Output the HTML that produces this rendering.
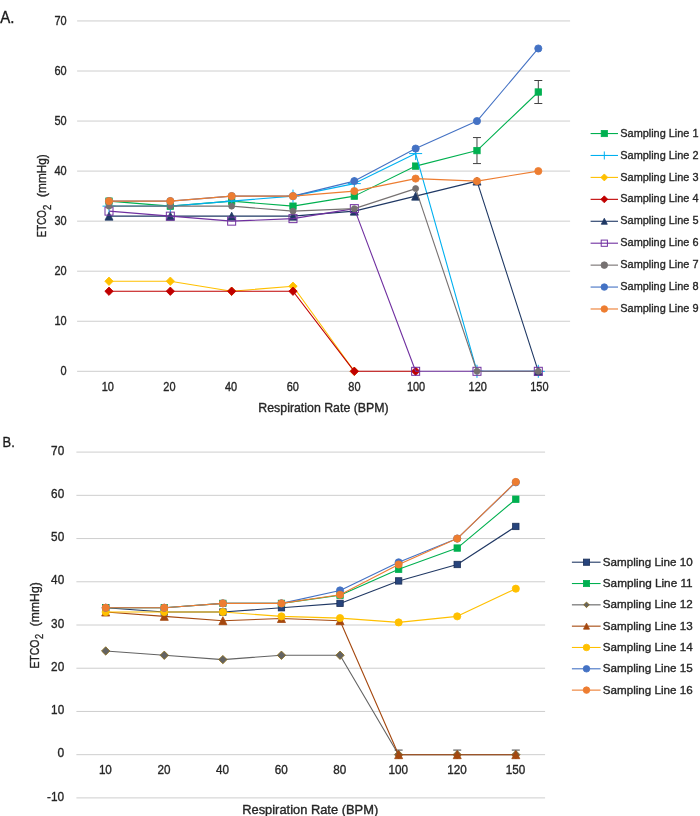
<!DOCTYPE html><html><head><meta charset="utf-8"><title>ETCO2 vs Respiration Rate</title><style>html,body{margin:0;padding:0;background:#fff}svg{display:block}text{font-family:"Liberation Sans",sans-serif}</style></head><body>
<svg width="700" height="816" viewBox="0 0 700 816">
<rect width="700" height="816" fill="#fff"/>
<line x1="77.1" x2="570.1" y1="371.30" y2="371.30" stroke="#cecece" stroke-width="1"/>
<text x="66.7" y="375.1" font-size="12.5" text-anchor="end" textLength="6.1" lengthAdjust="spacingAndGlyphs" fill="#262626" stroke="#262626" stroke-width="0.35">0</text>
<line x1="77.1" x2="570.1" y1="321.25" y2="321.25" stroke="#cecece" stroke-width="1"/>
<text x="66.7" y="325.05" font-size="12.5" text-anchor="end" textLength="12.2" lengthAdjust="spacingAndGlyphs" fill="#262626" stroke="#262626" stroke-width="0.35">10</text>
<line x1="77.1" x2="570.1" y1="271.20" y2="271.20" stroke="#cecece" stroke-width="1"/>
<text x="66.7" y="275.00000000000006" font-size="12.5" text-anchor="end" textLength="12.2" lengthAdjust="spacingAndGlyphs" fill="#262626" stroke="#262626" stroke-width="0.35">20</text>
<line x1="77.1" x2="570.1" y1="221.15" y2="221.15" stroke="#cecece" stroke-width="1"/>
<text x="66.7" y="224.95000000000002" font-size="12.5" text-anchor="end" textLength="12.2" lengthAdjust="spacingAndGlyphs" fill="#262626" stroke="#262626" stroke-width="0.35">30</text>
<line x1="77.1" x2="570.1" y1="171.10" y2="171.10" stroke="#cecece" stroke-width="1"/>
<text x="66.7" y="174.90000000000003" font-size="12.5" text-anchor="end" textLength="12.2" lengthAdjust="spacingAndGlyphs" fill="#262626" stroke="#262626" stroke-width="0.35">40</text>
<line x1="77.1" x2="570.1" y1="121.05" y2="121.05" stroke="#cecece" stroke-width="1"/>
<text x="66.7" y="124.85000000000001" font-size="12.5" text-anchor="end" textLength="12.2" lengthAdjust="spacingAndGlyphs" fill="#262626" stroke="#262626" stroke-width="0.35">50</text>
<line x1="77.1" x2="570.1" y1="71.00" y2="71.00" stroke="#cecece" stroke-width="1"/>
<text x="66.7" y="74.8" font-size="12.5" text-anchor="end" textLength="12.2" lengthAdjust="spacingAndGlyphs" fill="#262626" stroke="#262626" stroke-width="0.35">60</text>
<line x1="77.1" x2="570.1" y1="20.95" y2="20.95" stroke="#cecece" stroke-width="1"/>
<text x="66.7" y="24.750000000000046" font-size="12.5" text-anchor="end" textLength="12.2" lengthAdjust="spacingAndGlyphs" fill="#262626" stroke="#262626" stroke-width="0.35">70</text>
<text x="107.80" y="391.0" font-size="12.5" text-anchor="middle" textLength="12.2" lengthAdjust="spacingAndGlyphs" fill="#262626" stroke="#262626" stroke-width="0.35">10</text>
<text x="169.45" y="391.0" font-size="12.5" text-anchor="middle" textLength="12.2" lengthAdjust="spacingAndGlyphs" fill="#262626" stroke="#262626" stroke-width="0.35">20</text>
<text x="231.10" y="391.0" font-size="12.5" text-anchor="middle" textLength="12.2" lengthAdjust="spacingAndGlyphs" fill="#262626" stroke="#262626" stroke-width="0.35">40</text>
<text x="292.75" y="391.0" font-size="12.5" text-anchor="middle" textLength="12.2" lengthAdjust="spacingAndGlyphs" fill="#262626" stroke="#262626" stroke-width="0.35">60</text>
<text x="354.40" y="391.0" font-size="12.5" text-anchor="middle" textLength="12.2" lengthAdjust="spacingAndGlyphs" fill="#262626" stroke="#262626" stroke-width="0.35">80</text>
<text x="416.05" y="391.0" font-size="12.5" text-anchor="middle" textLength="18.3" lengthAdjust="spacingAndGlyphs" fill="#262626" stroke="#262626" stroke-width="0.35">100</text>
<text x="477.70" y="391.0" font-size="12.5" text-anchor="middle" textLength="18.3" lengthAdjust="spacingAndGlyphs" fill="#262626" stroke="#262626" stroke-width="0.35">120</text>
<text x="539.35" y="391.0" font-size="12.5" text-anchor="middle" textLength="18.3" lengthAdjust="spacingAndGlyphs" fill="#262626" stroke="#262626" stroke-width="0.35">150</text>
<text x="323.5" y="411.8" font-size="12.6" text-anchor="middle" textLength="130.3" lengthAdjust="spacingAndGlyphs" fill="#262626" stroke="#262626" stroke-width="0.35">Respiration Rate (BPM)</text>
<g transform="translate(45.8,237.2) rotate(-90)">
<text x="0" y="0" font-size="12.6" textLength="27" lengthAdjust="spacingAndGlyphs" fill="#262626" stroke="#262626" stroke-width="0.35">ETCO</text>
<text x="27.3" y="5.4" font-size="11.6" textLength="5.3" lengthAdjust="spacingAndGlyphs" fill="#262626" stroke="#262626" stroke-width="0.35">2</text>
<text x="40.3" y="0" font-size="12.6" textLength="42.7" lengthAdjust="spacingAndGlyphs" fill="#262626" stroke="#262626" stroke-width="0.35">(mmHg)</text>
</g>
<text x="0.3" y="22.9" font-size="17" textLength="14.2" lengthAdjust="spacingAndGlyphs" fill="#1a1a1a" stroke="#1a1a1a" stroke-width="0.35">A.</text>
<path d="M476.98 137.57V163.59M472.98 137.57H480.98M472.98 163.59H480.98" stroke="#404040" stroke-width="1" fill="none"/>
<path d="M538.31 80.51V103.53M534.31 80.51H542.31M534.31 103.53H542.31" stroke="#404040" stroke-width="1" fill="none"/>
<polyline fill="none" stroke="#00b050" stroke-width="1.1" stroke-linejoin="round" points="109.00,201.13 170.33,206.14 231.66,201.13 292.99,206.14 354.32,196.13 415.65,166.10 476.98,150.58 538.31,92.02"/>
<rect x="105.80" y="197.93" width="6.4" height="6.4" fill="#00b050" stroke="#00b050" stroke-width="0.8"/>
<rect x="167.13" y="202.94" width="6.4" height="6.4" fill="#00b050" stroke="#00b050" stroke-width="0.8"/>
<rect x="228.46" y="197.93" width="6.4" height="6.4" fill="#00b050" stroke="#00b050" stroke-width="0.8"/>
<rect x="289.79" y="202.94" width="6.4" height="6.4" fill="#00b050" stroke="#00b050" stroke-width="0.8"/>
<rect x="351.12" y="192.93" width="6.4" height="6.4" fill="#00b050" stroke="#00b050" stroke-width="0.8"/>
<rect x="412.45" y="162.90" width="6.4" height="6.4" fill="#00b050" stroke="#00b050" stroke-width="0.8"/>
<rect x="473.78" y="147.38" width="6.4" height="6.4" fill="#00b050" stroke="#00b050" stroke-width="0.8"/>
<rect x="535.11" y="88.82" width="6.4" height="6.4" fill="#00b050" stroke="#00b050" stroke-width="0.8"/>
<polyline fill="none" stroke="#00b0f0" stroke-width="1.1" stroke-linejoin="round" points="109.00,206.14 170.33,206.14 231.66,201.13 292.99,196.13 354.32,183.61 415.65,153.58 476.98,371.30 538.31,371.30"/>
<path d="M102.50 206.14H115.50M109.00 199.64V212.64" fill="none" stroke="#00b0f0" stroke-width="1"/>
<path d="M163.83 206.14H176.83M170.33 199.64V212.64" fill="none" stroke="#00b0f0" stroke-width="1"/>
<path d="M225.16 201.13H238.16M231.66 194.63V207.63" fill="none" stroke="#00b0f0" stroke-width="1"/>
<path d="M286.49 196.13H299.49M292.99 189.63V202.63" fill="none" stroke="#00b0f0" stroke-width="1"/>
<path d="M347.82 183.61H360.82M354.32 177.11V190.11" fill="none" stroke="#00b0f0" stroke-width="1"/>
<path d="M409.15 153.58H422.15M415.65 147.08V160.08" fill="none" stroke="#00b0f0" stroke-width="1"/>
<path d="M470.48 371.30H483.48M476.98 364.80V377.80" fill="none" stroke="#00b0f0" stroke-width="1"/>
<path d="M531.81 371.30H544.81M538.31 364.80V377.80" fill="none" stroke="#00b0f0" stroke-width="1"/>
<polyline fill="none" stroke="#ffc000" stroke-width="1.1" stroke-linejoin="round" points="109.00,281.21 170.33,281.21 231.66,291.22 292.99,286.22 354.32,371.30"/>
<path d="M104.80 281.21L109.00 277.01L113.20 281.21L109.00 285.41Z" fill="#ffc000" stroke="#ffc000" stroke-width="0.8"/>
<path d="M166.13 281.21L170.33 277.01L174.53 281.21L170.33 285.41Z" fill="#ffc000" stroke="#ffc000" stroke-width="0.8"/>
<path d="M227.46 291.22L231.66 287.02L235.86 291.22L231.66 295.42Z" fill="#ffc000" stroke="#ffc000" stroke-width="0.8"/>
<path d="M288.79 286.22L292.99 282.02L297.19 286.22L292.99 290.42Z" fill="#ffc000" stroke="#ffc000" stroke-width="0.8"/>
<path d="M350.12 371.30L354.32 367.10L358.52 371.30L354.32 375.50Z" fill="#ffc000" stroke="#ffc000" stroke-width="0.8"/>
<polyline fill="none" stroke="#c00000" stroke-width="1.1" stroke-linejoin="round" points="109.00,291.22 170.33,291.22 231.66,291.22 292.99,291.22 354.32,371.30 415.65,371.30"/>
<path d="M104.80 291.22L109.00 287.02L113.20 291.22L109.00 295.42Z" fill="#c00000" stroke="#c00000" stroke-width="0.8"/>
<path d="M166.13 291.22L170.33 287.02L174.53 291.22L170.33 295.42Z" fill="#c00000" stroke="#c00000" stroke-width="0.8"/>
<path d="M227.46 291.22L231.66 287.02L235.86 291.22L231.66 295.42Z" fill="#c00000" stroke="#c00000" stroke-width="0.8"/>
<path d="M288.79 291.22L292.99 287.02L297.19 291.22L292.99 295.42Z" fill="#c00000" stroke="#c00000" stroke-width="0.8"/>
<path d="M350.12 371.30L354.32 367.10L358.52 371.30L354.32 375.50Z" fill="#c00000" stroke="#c00000" stroke-width="0.8"/>
<path d="M411.45 371.30L415.65 367.10L419.85 371.30L415.65 375.50Z" fill="#c00000" stroke="#c00000" stroke-width="0.8"/>
<polyline fill="none" stroke="#1f3864" stroke-width="1.1" stroke-linejoin="round" points="109.00,216.15 170.33,216.15 231.66,216.15 292.99,216.15 354.32,211.14 415.65,196.13 476.98,181.11 538.31,371.30"/>
<path d="M105.00 220.15L109.00 212.15L113.00 220.15Z" fill="#1f3864" stroke="#1f3864" stroke-width="0.8"/>
<path d="M166.33 220.15L170.33 212.15L174.33 220.15Z" fill="#1f3864" stroke="#1f3864" stroke-width="0.8"/>
<path d="M227.66 220.15L231.66 212.15L235.66 220.15Z" fill="#1f3864" stroke="#1f3864" stroke-width="0.8"/>
<path d="M288.99 220.15L292.99 212.15L296.99 220.15Z" fill="#1f3864" stroke="#1f3864" stroke-width="0.8"/>
<path d="M350.32 215.14L354.32 207.14L358.32 215.14Z" fill="#1f3864" stroke="#1f3864" stroke-width="0.8"/>
<path d="M411.65 200.13L415.65 192.13L419.65 200.13Z" fill="#1f3864" stroke="#1f3864" stroke-width="0.8"/>
<path d="M472.98 185.11L476.98 177.11L480.98 185.11Z" fill="#1f3864" stroke="#1f3864" stroke-width="0.8"/>
<path d="M534.31 375.30L538.31 367.30L542.31 375.30Z" fill="#1f3864" stroke="#1f3864" stroke-width="0.8"/>
<polyline fill="none" stroke="#7030a0" stroke-width="1.1" stroke-linejoin="round" points="109.00,211.14 170.33,216.15 231.66,221.15 292.99,218.65 354.32,208.64 415.65,371.30 476.98,371.30 538.31,371.30"/>
<rect x="105.00" y="207.14" width="8.0" height="8.0" fill="none" stroke="#7030a0" stroke-width="1"/>
<rect x="166.33" y="212.15" width="8.0" height="8.0" fill="none" stroke="#7030a0" stroke-width="1"/>
<rect x="227.66" y="217.15" width="8.0" height="8.0" fill="none" stroke="#7030a0" stroke-width="1"/>
<rect x="288.99" y="214.65" width="8.0" height="8.0" fill="none" stroke="#7030a0" stroke-width="1"/>
<rect x="350.32" y="204.64" width="8.0" height="8.0" fill="none" stroke="#7030a0" stroke-width="1"/>
<rect x="411.65" y="367.30" width="8.0" height="8.0" fill="none" stroke="#7030a0" stroke-width="1"/>
<rect x="472.98" y="367.30" width="8.0" height="8.0" fill="none" stroke="#7030a0" stroke-width="1"/>
<rect x="534.31" y="367.30" width="8.0" height="8.0" fill="none" stroke="#7030a0" stroke-width="1"/>
<polyline fill="none" stroke="#767171" stroke-width="1.1" stroke-linejoin="round" points="109.00,206.14 170.33,206.14 231.66,206.14 292.99,211.14 354.32,208.64 415.65,188.62 476.98,371.30 538.31,371.30"/>
<circle cx="109.00" cy="206.14" r="3.0" fill="#767171" stroke="#767171" stroke-width="0.8"/>
<circle cx="170.33" cy="206.14" r="3.0" fill="#767171" stroke="#767171" stroke-width="0.8"/>
<circle cx="231.66" cy="206.14" r="3.0" fill="#767171" stroke="#767171" stroke-width="0.8"/>
<circle cx="292.99" cy="211.14" r="3.0" fill="#767171" stroke="#767171" stroke-width="0.8"/>
<circle cx="354.32" cy="208.64" r="3.0" fill="#767171" stroke="#767171" stroke-width="0.8"/>
<circle cx="415.65" cy="188.62" r="3.0" fill="#767171" stroke="#767171" stroke-width="0.8"/>
<circle cx="476.98" cy="371.30" r="3.0" fill="#767171" stroke="#767171" stroke-width="0.8"/>
<circle cx="538.31" cy="371.30" r="3.0" fill="#767171" stroke="#767171" stroke-width="0.8"/>
<polyline fill="none" stroke="#4472c4" stroke-width="1.1" stroke-linejoin="round" points="109.00,201.13 170.33,201.13 231.66,196.13 292.99,196.13 354.32,181.11 415.65,148.58 476.98,121.05 538.31,48.48"/>
<circle cx="109.00" cy="201.13" r="3.6" fill="#4472c4" stroke="#4472c4" stroke-width="0.8"/>
<circle cx="170.33" cy="201.13" r="3.6" fill="#4472c4" stroke="#4472c4" stroke-width="0.8"/>
<circle cx="231.66" cy="196.13" r="3.6" fill="#4472c4" stroke="#4472c4" stroke-width="0.8"/>
<circle cx="292.99" cy="196.13" r="3.6" fill="#4472c4" stroke="#4472c4" stroke-width="0.8"/>
<circle cx="354.32" cy="181.11" r="3.6" fill="#4472c4" stroke="#4472c4" stroke-width="0.8"/>
<circle cx="415.65" cy="148.58" r="3.6" fill="#4472c4" stroke="#4472c4" stroke-width="0.8"/>
<circle cx="476.98" cy="121.05" r="3.6" fill="#4472c4" stroke="#4472c4" stroke-width="0.8"/>
<circle cx="538.31" cy="48.48" r="3.6" fill="#4472c4" stroke="#4472c4" stroke-width="0.8"/>
<polyline fill="none" stroke="#ed7d31" stroke-width="1.1" stroke-linejoin="round" points="109.00,201.13 170.33,201.13 231.66,196.13 292.99,196.13 354.32,191.12 415.65,178.61 476.98,181.11 538.31,171.10"/>
<circle cx="109.00" cy="201.13" r="3.6" fill="#ed7d31" stroke="#ed7d31" stroke-width="0.8"/>
<circle cx="170.33" cy="201.13" r="3.6" fill="#ed7d31" stroke="#ed7d31" stroke-width="0.8"/>
<circle cx="231.66" cy="196.13" r="3.6" fill="#ed7d31" stroke="#ed7d31" stroke-width="0.8"/>
<circle cx="292.99" cy="196.13" r="3.6" fill="#ed7d31" stroke="#ed7d31" stroke-width="0.8"/>
<circle cx="354.32" cy="191.12" r="3.6" fill="#ed7d31" stroke="#ed7d31" stroke-width="0.8"/>
<circle cx="415.65" cy="178.61" r="3.6" fill="#ed7d31" stroke="#ed7d31" stroke-width="0.8"/>
<circle cx="476.98" cy="181.11" r="3.6" fill="#ed7d31" stroke="#ed7d31" stroke-width="0.8"/>
<circle cx="538.31" cy="171.10" r="3.6" fill="#ed7d31" stroke="#ed7d31" stroke-width="0.8"/>
<line x1="590.6" x2="618" y1="133.55" y2="133.55" stroke="#00b050" stroke-width="1.1"/>
<rect x="601.20" y="130.45" width="6.2" height="6.2" fill="#00b050" stroke="#00b050" stroke-width="0.8"/>
<text x="620.3" y="136.65" font-size="11.6" textLength="78.2" lengthAdjust="spacingAndGlyphs" fill="#262626" stroke="#262626" stroke-width="0.35">Sampling Line 1</text>
<line x1="590.6" x2="618" y1="155.48" y2="155.48" stroke="#00b0f0" stroke-width="1.1"/>
<path d="M600.30 155.48H608.30M604.30 151.48V159.48" fill="none" stroke="#00b0f0" stroke-width="1"/>
<text x="620.3" y="158.58" font-size="11.6" textLength="78.2" lengthAdjust="spacingAndGlyphs" fill="#262626" stroke="#262626" stroke-width="0.35">Sampling Line 2</text>
<line x1="590.6" x2="618" y1="177.41" y2="177.41" stroke="#ffc000" stroke-width="1.1"/>
<path d="M600.80 177.41L604.30 173.91L607.80 177.41L604.30 180.91Z" fill="#ffc000" stroke="#ffc000" stroke-width="0.8"/>
<text x="620.3" y="180.51" font-size="11.6" textLength="78.2" lengthAdjust="spacingAndGlyphs" fill="#262626" stroke="#262626" stroke-width="0.35">Sampling Line 3</text>
<line x1="590.6" x2="618" y1="199.34" y2="199.34" stroke="#c00000" stroke-width="1.1"/>
<path d="M600.80 199.34L604.30 195.84L607.80 199.34L604.30 202.84Z" fill="#c00000" stroke="#c00000" stroke-width="0.8"/>
<text x="620.3" y="202.44" font-size="11.6" textLength="78.2" lengthAdjust="spacingAndGlyphs" fill="#262626" stroke="#262626" stroke-width="0.35">Sampling Line 4</text>
<line x1="590.6" x2="618" y1="221.27" y2="221.27" stroke="#1f3864" stroke-width="1.1"/>
<path d="M601.30 224.27L604.30 218.27L607.30 224.27Z" fill="#1f3864" stroke="#1f3864" stroke-width="0.8"/>
<text x="620.3" y="224.37" font-size="11.6" textLength="78.2" lengthAdjust="spacingAndGlyphs" fill="#262626" stroke="#262626" stroke-width="0.35">Sampling Line 5</text>
<line x1="590.6" x2="618" y1="243.20" y2="243.20" stroke="#7030a0" stroke-width="1.1"/>
<rect x="601.20" y="240.10" width="6.2" height="6.2" fill="none" stroke="#7030a0" stroke-width="1"/>
<text x="620.3" y="246.30" font-size="11.6" textLength="78.2" lengthAdjust="spacingAndGlyphs" fill="#262626" stroke="#262626" stroke-width="0.35">Sampling Line 6</text>
<line x1="590.6" x2="618" y1="265.13" y2="265.13" stroke="#767171" stroke-width="1.1"/>
<circle cx="604.30" cy="265.13" r="3.3" fill="#767171" stroke="#767171" stroke-width="0.8"/>
<text x="620.3" y="268.23" font-size="11.6" textLength="78.2" lengthAdjust="spacingAndGlyphs" fill="#262626" stroke="#262626" stroke-width="0.35">Sampling Line 7</text>
<line x1="590.6" x2="618" y1="287.06" y2="287.06" stroke="#4472c4" stroke-width="1.1"/>
<circle cx="604.30" cy="287.06" r="3.3" fill="#4472c4" stroke="#4472c4" stroke-width="0.8"/>
<text x="620.3" y="290.16" font-size="11.6" textLength="78.2" lengthAdjust="spacingAndGlyphs" fill="#262626" stroke="#262626" stroke-width="0.35">Sampling Line 8</text>
<line x1="590.6" x2="618" y1="308.99" y2="308.99" stroke="#ed7d31" stroke-width="1.1"/>
<circle cx="604.30" cy="308.99" r="3.3" fill="#ed7d31" stroke="#ed7d31" stroke-width="0.8"/>
<text x="620.3" y="312.09" font-size="11.6" textLength="78.2" lengthAdjust="spacingAndGlyphs" fill="#262626" stroke="#262626" stroke-width="0.35">Sampling Line 9</text>
<line x1="76.4" x2="545.1" y1="797.90" y2="797.90" stroke="#cecece" stroke-width="1"/>
<text x="64.2" y="800.605" font-size="12.8" text-anchor="end" textLength="17.1" lengthAdjust="spacingAndGlyphs" fill="#262626" stroke="#262626" stroke-width="0.35">-10</text>
<line x1="76.4" x2="545.1" y1="754.68" y2="754.68" stroke="#cecece" stroke-width="1"/>
<text x="64.2" y="757.38" font-size="12.8" text-anchor="end" textLength="6.7" lengthAdjust="spacingAndGlyphs" fill="#262626" stroke="#262626" stroke-width="0.35">0</text>
<line x1="76.4" x2="545.1" y1="711.45" y2="711.45" stroke="#cecece" stroke-width="1"/>
<text x="64.2" y="714.155" font-size="12.8" text-anchor="end" textLength="13.1" lengthAdjust="spacingAndGlyphs" fill="#262626" stroke="#262626" stroke-width="0.35">10</text>
<line x1="76.4" x2="545.1" y1="668.23" y2="668.23" stroke="#cecece" stroke-width="1"/>
<text x="64.2" y="670.9300000000001" font-size="12.8" text-anchor="end" textLength="13.1" lengthAdjust="spacingAndGlyphs" fill="#262626" stroke="#262626" stroke-width="0.35">20</text>
<line x1="76.4" x2="545.1" y1="625.00" y2="625.00" stroke="#cecece" stroke-width="1"/>
<text x="64.2" y="627.705" font-size="12.8" text-anchor="end" textLength="13.1" lengthAdjust="spacingAndGlyphs" fill="#262626" stroke="#262626" stroke-width="0.35">30</text>
<line x1="76.4" x2="545.1" y1="581.78" y2="581.78" stroke="#cecece" stroke-width="1"/>
<text x="64.2" y="584.48" font-size="12.8" text-anchor="end" textLength="13.1" lengthAdjust="spacingAndGlyphs" fill="#262626" stroke="#262626" stroke-width="0.35">40</text>
<line x1="76.4" x2="545.1" y1="538.55" y2="538.55" stroke="#cecece" stroke-width="1"/>
<text x="64.2" y="541.255" font-size="12.8" text-anchor="end" textLength="13.1" lengthAdjust="spacingAndGlyphs" fill="#262626" stroke="#262626" stroke-width="0.35">50</text>
<line x1="76.4" x2="545.1" y1="495.33" y2="495.33" stroke="#cecece" stroke-width="1"/>
<text x="64.2" y="498.03" font-size="12.8" text-anchor="end" textLength="13.1" lengthAdjust="spacingAndGlyphs" fill="#262626" stroke="#262626" stroke-width="0.35">60</text>
<line x1="76.4" x2="545.1" y1="452.10" y2="452.10" stroke="#cecece" stroke-width="1"/>
<text x="64.2" y="454.80499999999995" font-size="12.8" text-anchor="end" textLength="13.1" lengthAdjust="spacingAndGlyphs" fill="#262626" stroke="#262626" stroke-width="0.35">70</text>
<text x="105.39" y="774.4" font-size="12.6" text-anchor="middle" textLength="13.0" lengthAdjust="spacingAndGlyphs" fill="#262626" stroke="#262626" stroke-width="0.35">10</text>
<text x="163.98" y="774.4" font-size="12.6" text-anchor="middle" textLength="13.0" lengthAdjust="spacingAndGlyphs" fill="#262626" stroke="#262626" stroke-width="0.35">20</text>
<text x="222.57" y="774.4" font-size="12.6" text-anchor="middle" textLength="13.0" lengthAdjust="spacingAndGlyphs" fill="#262626" stroke="#262626" stroke-width="0.35">40</text>
<text x="281.16" y="774.4" font-size="12.6" text-anchor="middle" textLength="13.0" lengthAdjust="spacingAndGlyphs" fill="#262626" stroke="#262626" stroke-width="0.35">60</text>
<text x="339.74" y="774.4" font-size="12.6" text-anchor="middle" textLength="13.0" lengthAdjust="spacingAndGlyphs" fill="#262626" stroke="#262626" stroke-width="0.35">80</text>
<text x="398.33" y="774.4" font-size="12.6" text-anchor="middle" textLength="19.5" lengthAdjust="spacingAndGlyphs" fill="#262626" stroke="#262626" stroke-width="0.35">100</text>
<text x="456.92" y="774.4" font-size="12.6" text-anchor="middle" textLength="19.5" lengthAdjust="spacingAndGlyphs" fill="#262626" stroke="#262626" stroke-width="0.35">120</text>
<text x="515.51" y="774.4" font-size="12.6" text-anchor="middle" textLength="19.5" lengthAdjust="spacingAndGlyphs" fill="#262626" stroke="#262626" stroke-width="0.35">150</text>
<text x="310.2" y="813.9" font-size="12.6" text-anchor="middle" textLength="136" lengthAdjust="spacingAndGlyphs" fill="#262626" stroke="#262626" stroke-width="0.35">Respiration Rate (BPM)</text>
<g transform="translate(39.4,668.6) rotate(-90)">
<text x="0" y="0" font-size="12.6" textLength="29" lengthAdjust="spacingAndGlyphs" fill="#262626" stroke="#262626" stroke-width="0.35">ETCO</text>
<text x="29.7" y="3.9" font-size="11.4" textLength="5.1" lengthAdjust="spacingAndGlyphs" fill="#262626" stroke="#262626" stroke-width="0.35">2</text>
<text x="42.4" y="0" font-size="12.6" textLength="43.9" lengthAdjust="spacingAndGlyphs" fill="#262626" stroke="#262626" stroke-width="0.35">(mmHg)</text>
</g>
<text x="2.6" y="446.7" font-size="15" textLength="12.2" lengthAdjust="spacingAndGlyphs" fill="#1a1a1a" stroke="#1a1a1a" stroke-width="0.35">B.</text>
<polyline fill="none" stroke="#203864" stroke-width="1.1" stroke-linejoin="round" points="105.69,607.71 164.28,612.04 222.87,612.04 281.46,607.71 340.04,603.39 398.63,580.92 457.22,564.49 515.81,526.45"/>
<rect x="102.49" y="604.51" width="6.4" height="6.4" fill="#27447c" stroke="#1c3058" stroke-width="0.8"/>
<rect x="161.08" y="608.84" width="6.4" height="6.4" fill="#27447c" stroke="#1c3058" stroke-width="0.8"/>
<rect x="219.67" y="608.84" width="6.4" height="6.4" fill="#27447c" stroke="#1c3058" stroke-width="0.8"/>
<rect x="278.26" y="604.51" width="6.4" height="6.4" fill="#27447c" stroke="#1c3058" stroke-width="0.8"/>
<rect x="336.84" y="600.19" width="6.4" height="6.4" fill="#27447c" stroke="#1c3058" stroke-width="0.8"/>
<rect x="395.43" y="577.72" width="6.4" height="6.4" fill="#27447c" stroke="#1c3058" stroke-width="0.8"/>
<rect x="454.02" y="561.29" width="6.4" height="6.4" fill="#27447c" stroke="#1c3058" stroke-width="0.8"/>
<rect x="512.61" y="523.25" width="6.4" height="6.4" fill="#27447c" stroke="#1c3058" stroke-width="0.8"/>
<polyline fill="none" stroke="#00b050" stroke-width="1.1" stroke-linejoin="round" points="105.69,607.71 164.28,607.71 222.87,603.39 281.46,603.39 340.04,595.18 398.63,569.24 457.22,548.06 515.81,499.22"/>
<rect x="102.49" y="604.51" width="6.4" height="6.4" fill="#00b050" stroke="#00b050" stroke-width="0.8"/>
<rect x="161.08" y="604.51" width="6.4" height="6.4" fill="#00b050" stroke="#00b050" stroke-width="0.8"/>
<rect x="219.67" y="600.19" width="6.4" height="6.4" fill="#00b050" stroke="#00b050" stroke-width="0.8"/>
<rect x="278.26" y="600.19" width="6.4" height="6.4" fill="#00b050" stroke="#00b050" stroke-width="0.8"/>
<rect x="336.84" y="591.98" width="6.4" height="6.4" fill="#00b050" stroke="#00b050" stroke-width="0.8"/>
<rect x="395.43" y="566.04" width="6.4" height="6.4" fill="#00b050" stroke="#00b050" stroke-width="0.8"/>
<rect x="454.02" y="544.86" width="6.4" height="6.4" fill="#00b050" stroke="#00b050" stroke-width="0.8"/>
<rect x="512.61" y="496.02" width="6.4" height="6.4" fill="#00b050" stroke="#00b050" stroke-width="0.8"/>
<polyline fill="none" stroke="#636363" stroke-width="1.1" stroke-linejoin="round" points="105.69,650.94 164.28,655.26 222.87,659.58 281.46,655.26 340.04,655.26 398.63,754.68 457.22,754.68 515.81,754.68"/>
<path d="M101.49 650.94L105.69 646.74L109.89 650.94L105.69 655.14Z" fill="#636363" stroke="#8a6a12" stroke-width="0.8"/>
<path d="M160.08 655.26L164.28 651.06L168.48 655.26L164.28 659.46Z" fill="#636363" stroke="#8a6a12" stroke-width="0.8"/>
<path d="M218.67 659.58L222.87 655.38L227.07 659.58L222.87 663.78Z" fill="#636363" stroke="#8a6a12" stroke-width="0.8"/>
<path d="M277.26 655.26L281.46 651.06L285.66 655.26L281.46 659.46Z" fill="#636363" stroke="#8a6a12" stroke-width="0.8"/>
<path d="M335.84 655.26L340.04 651.06L344.24 655.26L340.04 659.46Z" fill="#636363" stroke="#8a6a12" stroke-width="0.8"/>
<path d="M394.43 754.68L398.63 750.48L402.83 754.68L398.63 758.88Z" fill="#636363" stroke="#8a6a12" stroke-width="0.8"/>
<path d="M453.02 754.68L457.22 750.48L461.42 754.68L457.22 758.88Z" fill="#636363" stroke="#8a6a12" stroke-width="0.8"/>
<path d="M511.61 754.68L515.81 750.48L520.01 754.68L515.81 758.88Z" fill="#636363" stroke="#8a6a12" stroke-width="0.8"/>
<path d="M394.63 750.08H402.63" stroke="#404040" stroke-width="1"/>
<path d="M453.22 750.08H461.22" stroke="#404040" stroke-width="1"/>
<path d="M511.81 750.08H519.81" stroke="#404040" stroke-width="1"/>
<polyline fill="none" stroke="#a5480f" stroke-width="1.1" stroke-linejoin="round" points="105.69,612.04 164.28,616.36 222.87,620.68 281.46,618.52 340.04,620.68 398.63,754.68 457.22,754.68 515.81,754.68"/>
<path d="M101.69 616.04L105.69 608.04L109.69 616.04Z" fill="#a5480f" stroke="#a5480f" stroke-width="0.8"/>
<path d="M160.28 620.36L164.28 612.36L168.28 620.36Z" fill="#a5480f" stroke="#a5480f" stroke-width="0.8"/>
<path d="M218.87 624.68L222.87 616.68L226.87 624.68Z" fill="#a5480f" stroke="#a5480f" stroke-width="0.8"/>
<path d="M277.46 622.52L281.46 614.52L285.46 622.52Z" fill="#a5480f" stroke="#a5480f" stroke-width="0.8"/>
<path d="M336.04 624.68L340.04 616.68L344.04 624.68Z" fill="#a5480f" stroke="#a5480f" stroke-width="0.8"/>
<path d="M394.63 758.68L398.63 750.68L402.63 758.68Z" fill="#a5480f" stroke="#a5480f" stroke-width="0.8"/>
<path d="M453.22 758.68L457.22 750.68L461.22 758.68Z" fill="#a5480f" stroke="#a5480f" stroke-width="0.8"/>
<path d="M511.81 758.68L515.81 750.68L519.81 758.68Z" fill="#a5480f" stroke="#a5480f" stroke-width="0.8"/>
<polyline fill="none" stroke="#ffc000" stroke-width="1.1" stroke-linejoin="round" points="105.69,612.04 164.28,612.04 222.87,612.04 281.46,616.36 340.04,618.09 398.63,622.41 457.22,616.36 515.81,588.70"/>
<circle cx="105.69" cy="612.04" r="3.6" fill="#ffc000" stroke="#ffc000" stroke-width="0.8"/>
<circle cx="164.28" cy="612.04" r="3.6" fill="#ffc000" stroke="#ffc000" stroke-width="0.8"/>
<circle cx="222.87" cy="612.04" r="3.6" fill="#ffc000" stroke="#ffc000" stroke-width="0.8"/>
<circle cx="281.46" cy="616.36" r="3.6" fill="#ffc000" stroke="#ffc000" stroke-width="0.8"/>
<circle cx="340.04" cy="618.09" r="3.6" fill="#ffc000" stroke="#ffc000" stroke-width="0.8"/>
<circle cx="398.63" cy="622.41" r="3.6" fill="#ffc000" stroke="#ffc000" stroke-width="0.8"/>
<circle cx="457.22" cy="616.36" r="3.6" fill="#ffc000" stroke="#ffc000" stroke-width="0.8"/>
<circle cx="515.81" cy="588.70" r="3.6" fill="#ffc000" stroke="#ffc000" stroke-width="0.8"/>
<polyline fill="none" stroke="#4472c4" stroke-width="1.1" stroke-linejoin="round" points="105.69,607.71 164.28,607.71 222.87,603.39 281.46,603.39 340.04,590.42 398.63,562.33 457.22,538.55 515.81,482.36"/>
<circle cx="105.69" cy="607.71" r="3.6" fill="#4472c4" stroke="#4472c4" stroke-width="0.8"/>
<circle cx="164.28" cy="607.71" r="3.6" fill="#4472c4" stroke="#4472c4" stroke-width="0.8"/>
<circle cx="222.87" cy="603.39" r="3.6" fill="#4472c4" stroke="#4472c4" stroke-width="0.8"/>
<circle cx="281.46" cy="603.39" r="3.6" fill="#4472c4" stroke="#4472c4" stroke-width="0.8"/>
<circle cx="340.04" cy="590.42" r="3.6" fill="#4472c4" stroke="#4472c4" stroke-width="0.8"/>
<circle cx="398.63" cy="562.33" r="3.6" fill="#4472c4" stroke="#4472c4" stroke-width="0.8"/>
<circle cx="457.22" cy="538.55" r="3.6" fill="#4472c4" stroke="#4472c4" stroke-width="0.8"/>
<circle cx="515.81" cy="482.36" r="3.6" fill="#4472c4" stroke="#4472c4" stroke-width="0.8"/>
<polyline fill="none" stroke="#ed7d31" stroke-width="1.1" stroke-linejoin="round" points="105.69,607.71 164.28,607.71 222.87,603.39 281.46,603.39 340.04,594.75 398.63,564.49 457.22,538.55 515.81,481.93"/>
<circle cx="105.69" cy="607.71" r="3.6" fill="#ed7d31" stroke="#ed7d31" stroke-width="0.8"/>
<circle cx="164.28" cy="607.71" r="3.6" fill="#ed7d31" stroke="#ed7d31" stroke-width="0.8"/>
<circle cx="222.87" cy="603.39" r="3.6" fill="#ed7d31" stroke="#ed7d31" stroke-width="0.8"/>
<circle cx="281.46" cy="603.39" r="3.6" fill="#ed7d31" stroke="#ed7d31" stroke-width="0.8"/>
<circle cx="340.04" cy="594.75" r="3.6" fill="#ed7d31" stroke="#ed7d31" stroke-width="0.8"/>
<circle cx="398.63" cy="564.49" r="3.6" fill="#ed7d31" stroke="#ed7d31" stroke-width="0.8"/>
<circle cx="457.22" cy="538.55" r="3.6" fill="#ed7d31" stroke="#ed7d31" stroke-width="0.8"/>
<circle cx="515.81" cy="481.93" r="3.6" fill="#ed7d31" stroke="#ed7d31" stroke-width="0.8"/>
<line x1="571.9" x2="600.6" y1="562.20" y2="562.20" stroke="#203864" stroke-width="1.1"/>
<rect x="583.40" y="559.10" width="6.2" height="6.2" fill="#27447c" stroke="#1c3058" stroke-width="0.8"/>
<text x="602.8" y="565.60" font-size="11.6" textLength="89.8" lengthAdjust="spacingAndGlyphs" fill="#262626" stroke="#262626" stroke-width="0.35">Sampling Line 10</text>
<line x1="571.9" x2="600.6" y1="583.52" y2="583.52" stroke="#00b050" stroke-width="1.1"/>
<rect x="583.40" y="580.42" width="6.2" height="6.2" fill="#00b050" stroke="#00b050" stroke-width="0.8"/>
<text x="602.8" y="586.92" font-size="11.6" textLength="89.8" lengthAdjust="spacingAndGlyphs" fill="#262626" stroke="#262626" stroke-width="0.35">Sampling Line 11</text>
<line x1="571.9" x2="600.6" y1="604.84" y2="604.84" stroke="#636363" stroke-width="1.1"/>
<path d="M583.70 604.84L586.50 602.04L589.30 604.84L586.50 607.64Z" fill="#636363" stroke="#8a6a12" stroke-width="0.8"/>
<text x="602.8" y="608.24" font-size="11.6" textLength="89.8" lengthAdjust="spacingAndGlyphs" fill="#262626" stroke="#262626" stroke-width="0.35">Sampling Line 12</text>
<line x1="571.9" x2="600.6" y1="626.16" y2="626.16" stroke="#a5480f" stroke-width="1.1"/>
<path d="M583.50 629.16L586.50 623.16L589.50 629.16Z" fill="#a5480f" stroke="#a5480f" stroke-width="0.8"/>
<text x="602.8" y="629.56" font-size="11.6" textLength="89.8" lengthAdjust="spacingAndGlyphs" fill="#262626" stroke="#262626" stroke-width="0.35">Sampling Line 13</text>
<line x1="571.9" x2="600.6" y1="647.48" y2="647.48" stroke="#ffc000" stroke-width="1.1"/>
<circle cx="586.50" cy="647.48" r="3.3" fill="#ffc000" stroke="#ffc000" stroke-width="0.8"/>
<text x="602.8" y="650.88" font-size="11.6" textLength="89.8" lengthAdjust="spacingAndGlyphs" fill="#262626" stroke="#262626" stroke-width="0.35">Sampling Line 14</text>
<line x1="571.9" x2="600.6" y1="668.80" y2="668.80" stroke="#4472c4" stroke-width="1.1"/>
<circle cx="586.50" cy="668.80" r="3.3" fill="#4472c4" stroke="#4472c4" stroke-width="0.8"/>
<text x="602.8" y="672.20" font-size="11.6" textLength="89.8" lengthAdjust="spacingAndGlyphs" fill="#262626" stroke="#262626" stroke-width="0.35">Sampling Line 15</text>
<line x1="571.9" x2="600.6" y1="690.12" y2="690.12" stroke="#ed7d31" stroke-width="1.1"/>
<circle cx="586.50" cy="690.12" r="3.3" fill="#ed7d31" stroke="#ed7d31" stroke-width="0.8"/>
<text x="602.8" y="693.52" font-size="11.6" textLength="89.8" lengthAdjust="spacingAndGlyphs" fill="#262626" stroke="#262626" stroke-width="0.35">Sampling Line 16</text>
</svg></body></html>
